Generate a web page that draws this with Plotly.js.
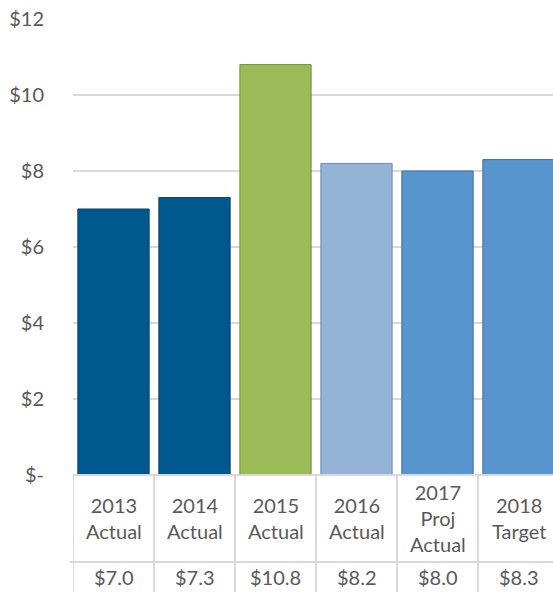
<!DOCTYPE html>
<html><head><meta charset="utf-8">
<script src="https://cdn.plot.ly/plotly-3.0.1.min.js"></script>
<style>html,body{margin:0;padding:0;overflow:hidden;background:#fff;}#chart{width:559px;height:592px;}</style>
</head><body><div id="chart"></div>
<script>
const categories = ["2013<br>Actual", "2014<br>Actual", "2015<br>Actual", "2016<br>Actual", "2017<br>Proj<br>Actual", "2018<br>Target"];
const values = [7.0, 7.3, 10.8, 8.2, 8.0, 8.3];
const barColors = ["#00598E", "#00598E", "#9BBB59", "#95B3D7", "#5894CE", "#5894CE"];
const lineColors = ["#0B3F5E", "#0B3F5E", "#76923C", "#6C8BB3", "#3C6E9E", "#3C6E9E"];
const tickVals = [0, 2, 4, 6, 8, 10, 12];
const tickText = ["$-", "$2", "$4", "$6", "$8", "$10", "$12"];

const font = "Lato, 'Open Sans', sans-serif";
const grey = "#D9D9D9";
const textCol = "#595959";

const trace = {
  type: "bar",
  x: categories,
  y: values,
  marker: {color: barColors, line: {color: lineColors, width: 1}},
  hoverinfo: "none"
};

const annotations = [];
const shapes = [];
categories.forEach((c, i) => {
  annotations.push({x: c, xref: "x", y: -0.094, yref: "paper", text: c, showarrow: false,
    yanchor: "middle", xanchor: "center", font: {family: font, size: 20, color: textCol}});
  annotations.push({x: c, xref: "x", y: -0.224, yref: "paper", text: "$" + values[i].toFixed(1), showarrow: false,
    yanchor: "middle", xanchor: "center", font: {family: font, size: 20, color: textCol}});
});
for (let i = 0; i <= categories.length; i++) {
  shapes.push({type: "line", xref: "x", yref: "paper", x0: i - 0.5, x1: i - 0.5, y0: 0, y1: -0.26,
    line: {color: grey, width: 2}});
}
shapes.push({type: "line", xref: "paper", yref: "paper", x0: -0.007, x1: 1, y0: -0.191, y1: -0.191, line: {color: grey, width: 2}});
shapes.push({type: "line", xref: "paper", yref: "paper", x0: 0, x1: 1, y0: 0, y1: 0, line: {color: grey, width: 2}});

const layout = {
  width: 559, height: 592,
  margin: {l: 73, r: 0, t: 19, b: 117},
  paper_bgcolor: "#fff", plot_bgcolor: "#fff",
  bargap: 0.12,
  showlegend: false,
  xaxis: {type: "category", showticklabels: false, showgrid: false, zeroline: false, showline: false, ticks: "",
    range: [-0.5, 5.5]},
  yaxis: {range: [0, 12], tickvals: tickVals, ticktext: tickText, showgrid: true, gridcolor: grey, gridwidth: 2,
    zeroline: false, showline: false, ticks: "", ticklabelstandoff: 28,
    tickfont: {family: font, size: 20, color: textCol}},
  annotations: annotations,
  shapes: shapes
};

Plotly.newPlot("chart", [trace], layout, {displayModeBar: false, staticPlot: true});
</script>
</body></html>
